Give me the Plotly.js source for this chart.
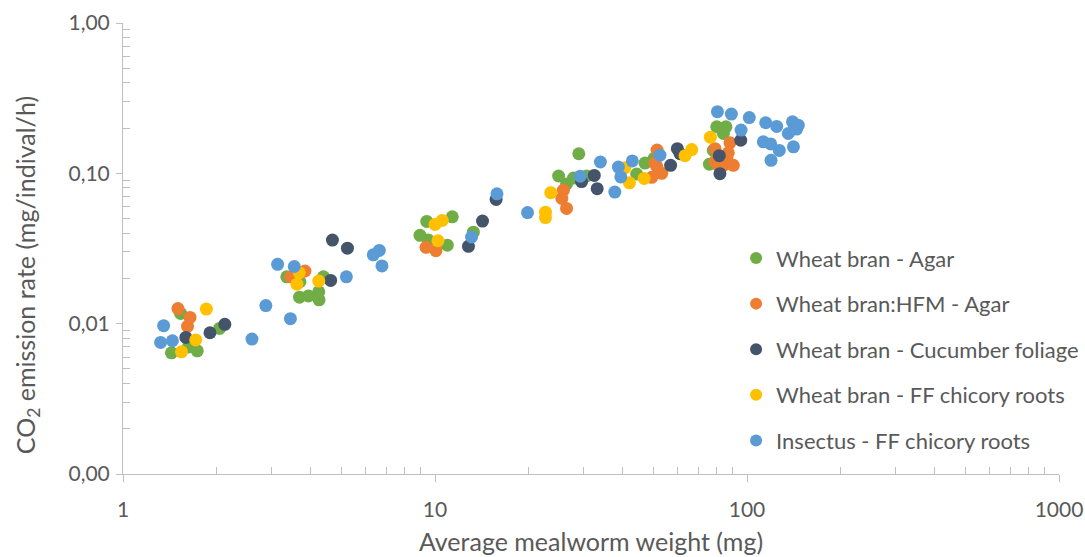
<!DOCTYPE html>
<html>
<head>
<meta charset="utf-8">
<script src="https://cdn.plot.ly/plotly-3.0.1.min.js"></script>
<style>
  html, body { margin: 0; padding: 0; background: #ffffff; }
  #chart { width: 1085px; height: 557px; }
</style>
</head>
<body>
<div id="chart"></div>
<script>
// CO2 emission rate of mealworms against their average weight, per rearing diet.
const seriesNames = [
  'Wheat bran - Agar',
  'Wheat bran:HFM - Agar',
  'Wheat bran - Cucumber foliage',
  'Wheat bran - FF chicory roots',
  'Insectus - FF chicory roots'
];
const seriesColors = ['#70AD47', '#ED7D31', '#44546A', '#FFC000', '#5B9BD5'];

// Wheat bran - Agar
const agarWeight = [1.43, 1.62, 1.73, 1.53, 2.04, 3.35, 3.69, 4.39, 4.24, 3.68, 3.93, 4.25,
  9.41, 11.36, 8.95, 9.52, 10.95, 13.27, 28.9, 24.9, 27.8, 26.4, 30.6, 44.3, 47.1, 50.4,
  80.0, 85.6, 84.0, 78.0, 75.8];
const agarRate = [0.0064, 0.0070, 0.0066, 0.0117, 0.0093, 0.0205, 0.0190, 0.0205, 0.0163, 0.0150, 0.0153, 0.0144,
  0.0479, 0.0514, 0.0387, 0.0360, 0.0333, 0.0406, 0.135, 0.096, 0.093, 0.085, 0.096, 0.099, 0.117, 0.126,
  0.204, 0.204, 0.184, 0.142, 0.115];

// Wheat bran:HFM - Agar
const hfmWeight = [1.50, 1.64, 1.61, 3.83, 3.45, 9.36, 10.07, 25.8, 25.5, 26.4,
  51.5, 51.4, 49.5, 53.3, 50.7, 79.0, 88.2, 87.1, 86.1, 79.0, 84.0, 90.4, 80.9];
const hfmRate = [0.0126, 0.0110, 0.0096, 0.0224, 0.0205, 0.0322, 0.0306, 0.0773, 0.0681, 0.0584,
  0.143, 0.111, 0.094, 0.100, 0.117, 0.146, 0.160, 0.137, 0.128, 0.120, 0.113, 0.113, 0.113];

// Wheat bran - Cucumber foliage
const cucumberWeight = [1.59, 1.90, 2.12, 4.63, 4.69, 5.24, 12.8, 14.2, 15.7, 29.5, 32.4, 33.1,
  56.9, 59.8, 61.0, 95.5, 81.5, 81.9];
const cucumberRate = [0.0081, 0.0087, 0.0099, 0.0194, 0.0360, 0.0318, 0.0327, 0.0481, 0.0671, 0.0881, 0.0968, 0.0791,
  0.113, 0.146, 0.135, 0.166, 0.131, 0.0995];

// Wheat bran - FF chicory roots
const chicoryWeight = [1.54, 1.71, 1.85, 3.67, 3.61, 4.24, 10.0, 10.55, 10.22, 22.6, 22.6, 23.5,
  40.6, 42.0, 46.8, 63.3, 66.5, 76.3];
const chicoryRate = [0.0065, 0.0078, 0.0125, 0.0218, 0.0183, 0.0192, 0.0457, 0.0486, 0.0356, 0.0552, 0.0508, 0.0744,
  0.109, 0.0865, 0.0925, 0.131, 0.144, 0.174];

// Insectus - FF chicory roots
const insectusWeight = [1.35, 1.32, 1.44, 2.59, 2.87, 3.44, 3.13, 3.54, 5.20, 6.34, 6.63, 6.76,
  13.1, 15.8, 19.8, 29.2, 33.9, 37.7, 38.7, 39.4, 42.9, 52.6,
  80.4, 89.1, 101.7, 95.7, 114.8, 124.5, 112.8, 119.1, 126.9, 119.4, 139.9, 146.0, 135.6, 140.9, 144.3];
const insectusRate = [0.0097, 0.0075, 0.0077, 0.0079, 0.0132, 0.0108, 0.0248, 0.0240, 0.0205, 0.0287, 0.0307, 0.0242,
  0.0377, 0.0731, 0.0548, 0.0958, 0.119, 0.0750, 0.110, 0.0946, 0.121, 0.132,
  0.257, 0.248, 0.235, 0.194, 0.217, 0.205, 0.162, 0.157, 0.142, 0.122, 0.220, 0.209, 0.184, 0.150, 0.197];

const xTickVals = [1, 10, 100, 1000];
const xTickText = ['1', '10', '100', '1000'];
const yTickVals = [0.001, 0.01, 0.1, 1];
const yTickText = ['0,00', '0,01', '0,10', '1,00'];

const xTitle = 'Average mealworm weight (mg)';
const yTitle = 'CO<sub>2</sub> emission rate (mg/indival/h)';

const xs = [agarWeight, hfmWeight, cucumberWeight, chicoryWeight, insectusWeight];
const ys = [agarRate, hfmRate, cucumberRate, chicoryRate, insectusRate];

const traces = seriesNames.map((name, i) => ({
  type: 'scatter',
  mode: 'markers',
  name: name,
  legendgroup: 'g' + i,
  x: xs[i],
  y: ys[i],
  marker: { color: seriesColors[i], size: 13, line: { width: 0 } },
  hoverinfo: 'x+y+name'
}));

// minor ticks at 2..9 within each decade
function minorTicks(lo, hi) {
  const out = [];
  for (let e = lo; e < hi; e++) {
    for (let m = 2; m <= 9; m++) out.push(m * Math.pow(10, e));
  }
  return out;
}

const axisGrey = '#BFBFBF';
const textGrey = '#595959';
const fontFamily = 'Lato, "Open Sans", sans-serif';

const layout = {
  width: 1085,
  height: 557,
  margin: { l: 123, r: 26, t: 23, b: 83, autoexpand: false },
  paper_bgcolor: '#ffffff',
  plot_bgcolor: '#ffffff',
  font: { family: fontFamily, color: textGrey },
  showlegend: true,
  legend: {
    x: 0.655, xanchor: 'left',
    y: 0.525, yanchor: 'top',
    font: { size: 22, color: textGrey, family: fontFamily },
    bgcolor: 'rgba(0,0,0,0)',
    tracegroupgap: 14,
    itemsizing: 'constant'
  },
  xaxis: {
    type: 'log',
    range: [0, 3],
    tickmode: 'array',
    tickvals: xTickVals,
    ticktext: xTickText,
    ticks: 'outside',
    ticklen: 7,
    tickcolor: axisGrey,
    ticklabelstandoff: 10,
    tickfont: { size: 21, color: textGrey },
    showgrid: false,
    zeroline: false,
    showline: true,
    linecolor: axisGrey,
    linewidth: 1,
    minor: { tickmode: 'array', tickvals: minorTicks(0, 3), ticks: 'inside', ticklen: 7, tickcolor: axisGrey, showgrid: false },
    title: { text: xTitle, font: { size: 25, color: textGrey }, standoff: 13 }
  },
  yaxis: {
    type: 'log',
    range: [-3, 0],
    tickmode: 'array',
    tickvals: yTickVals,
    ticktext: yTickText,
    ticks: 'outside',
    ticklen: 6,
    tickcolor: axisGrey,
    ticklabelstandoff: 2,
    tickfont: { size: 21, color: textGrey },
    showgrid: false,
    zeroline: false,
    showline: true,
    linecolor: axisGrey,
    linewidth: 1,
    minor: { tickmode: 'array', tickvals: minorTicks(-3, 0), ticks: 'inside', ticklen: 7, tickcolor: axisGrey, showgrid: false }
  },
  annotations: [{
    text: yTitle,
    xref: 'paper', yref: 'paper',
    x: -0.103, y: 0.44,
    xanchor: 'center', yanchor: 'middle',
    textangle: -90,
    showarrow: false,
    font: { size: 25, color: textGrey, family: fontFamily }
  }]
};

Plotly.newPlot('chart', traces, layout, { displayModeBar: false, staticPlot: true });
</script>
</body>
</html>
